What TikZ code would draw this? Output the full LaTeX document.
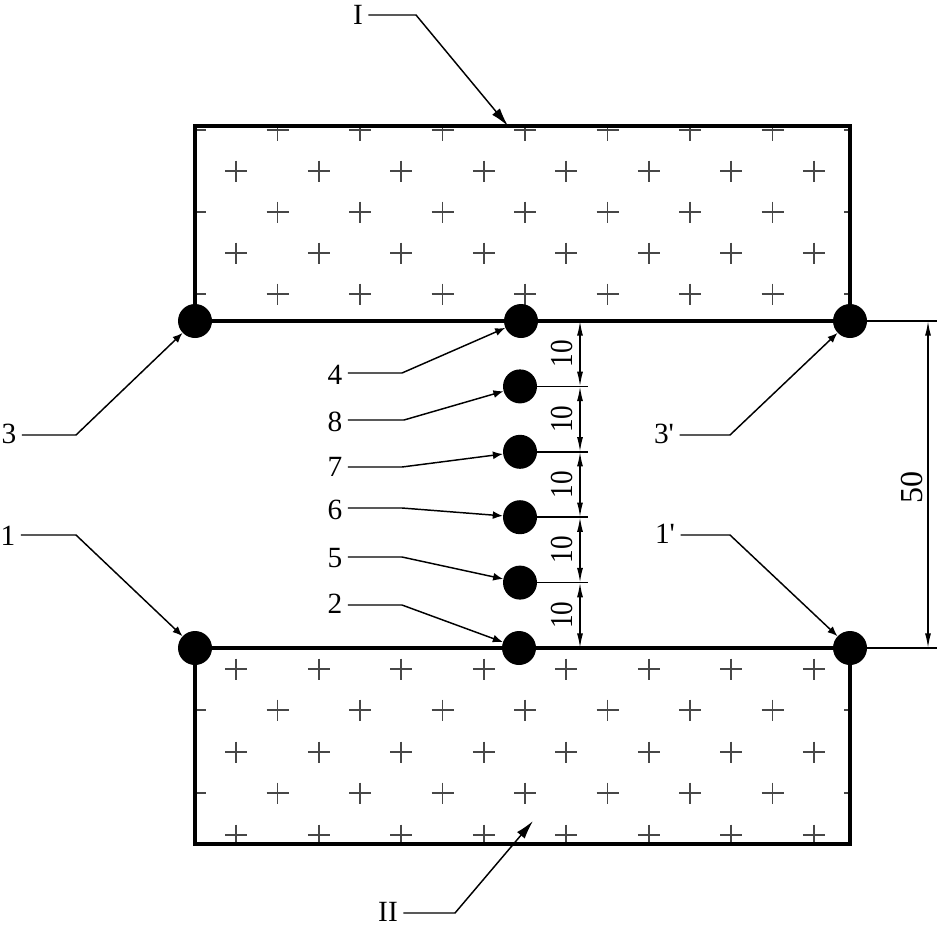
\documentclass[tikz,border=0pt]{standalone}
\usepackage{fontspec}
\usepackage{graphicx}
\setmainfont{Liberation Serif}
\usetikzlibrary{arrows.meta}
\begin{document}
\begin{tikzpicture}[x=0.75pt,y=-0.75pt,
  edge/.style={line width=3pt,line join=miter,line cap=rect},
  lead/.style={line width=1.1pt,-{Latex[length=7.5pt,width=6pt]}},
  biglead/.style={line width=1.1pt,-{Latex[length=14pt,width=7.5pt]}},
  dimline/.style={line width=1.1pt,{Latex[length=11pt,width=4.5pt]}-{Latex[length=11pt,width=4.5pt]}},
  thinline/.style={line width=1.1pt},
  dot/.style={circle,fill=black,inner sep=0pt,minimum size=25.5pt},
  lab/.style={inner sep=4pt,font=\fontsize{22}{26}\selectfont},
  dimlab/.style={inner sep=1pt,rotate=90,font=\fontsize{24}{28}\selectfont},
  cross/.style={line width=1.3pt,draw=black!72},
]
\useasboundingbox (0,0) rectangle (937,931);

% ---- hatching (crosses) ----
\begin{scope}
  \clip (195,126) rectangle (850,321);
  \foreach \y in {130,212,294}
    \foreach \x in {195,277.5,...,856}
      \draw[cross] ({\x-11},\y) -- ({\x+11},\y) (\x,{\y-10.5}) -- (\x,{\y+10.5});
  \foreach \y in {171,253}
    \foreach \x in {236.25,318.75,...,815}
      \draw[cross] ({\x-11},\y) -- ({\x+11},\y) (\x,{\y-10.5}) -- (\x,{\y+10.5});
\end{scope}
\begin{scope}
  \clip (195,648) rectangle (850,844);
  \foreach \y in {669,752,835}
    \foreach \x in {236.25,318.75,...,815}
      \draw[cross] ({\x-11},\y) -- ({\x+11},\y) (\x,{\y-10.5}) -- (\x,{\y+10.5});
  \foreach \y in {710,793}
    \foreach \x in {195,277.5,...,856}
      \draw[cross] ({\x-11},\y) -- ({\x+11},\y) (\x,{\y-10.5}) -- (\x,{\y+10.5});
\end{scope}

% ---- blocks ----
\draw[edge] (195,126) rectangle (850,321);
\draw[edge] (195,648) rectangle (850,844);

% ---- dimension coordinates ----
\coordinate (m0) at (580,321);
\coordinate (m1) at (580,386.4);
\coordinate (m2) at (580,451.8);
\coordinate (m3) at (580,517.2);
\coordinate (m4) at (580,582.6);
\coordinate (m5) at (580,648);
\coordinate (e1) at (588,386.4);
\coordinate (e2) at (588,451.8);
\coordinate (e3) at (588,517.2);
\coordinate (e4) at (588,582.6);
\coordinate (x0) at (937,321);
\coordinate (x1) at (937,648);
\coordinate (n0) at (928,321);
\coordinate (n1) at (928,648);

% ---- dots ----
\node[dot] (d3) at (195,321) {};
\node[dot] (d4) at (521,321) {};
\node[dot] (d3p) at (850,321) {};
\node[dot] (d8) at (520,386.4) {};
\node[dot] (d7) at (520,451.8) {};
\node[dot] (d6) at (520,517.2) {};
\node[dot] (d5) at (520,582.6) {};
\node[dot] (d2) at (519,648) {};
\node[dot] (d1) at (195,648) {};
\node[dot] (d1p) at (850,648) {};

% ---- ticks and extension lines ----
\draw[thinline] (d8.center) -- (e1);
\draw[thinline] (d7.center) -- (e2);
\draw[thinline] (d6.center) -- (e3);
\draw[thinline] (d5.center) -- (e4);
\draw[thinline] (d3p.center) -- (x0);
\draw[thinline] (d1p.center) -- (x1);

% ---- dimensions ----
\draw[dimline] (m0) -- (m1);
\draw[dimline] (m1) -- (m2);
\draw[dimline] (m2) -- (m3);
\draw[dimline] (m3) -- (m4);
\draw[dimline] (m4) -- (m5);
\node[dimlab] (t1) at (562,353.7) {\scalebox{0.85}[1]{10}};
\node[dimlab] (t2) at (562,419.1) {\scalebox{0.85}[1]{10}};
\node[dimlab] (t3) at (562,484.5) {\scalebox{0.85}[1]{10}};
\node[dimlab] (t4) at (562,549.9) {\scalebox{0.85}[1]{10}};
\node[dimlab] (t5) at (562,615.3) {\scalebox{0.85}[1]{10}};
\draw[dimline] (n0) -- (n1);
\node[dimlab] (t50) at (912,487) {50};

% ---- leader labels ----
\node[lab] (lI) at (358,15) {I};
\node[lab] (l3) at (9,434) {3};
\node[lab] (l1) at (8,536) {1};
\node[lab] (l3p) at (664,434) {3\textquotesingle};
\node[lab] (l1p) at (665,534) {1\textquotesingle};
\node[lab] (l4) at (335,375) {4};
\node[lab] (l8) at (335,422) {8};
\node[lab] (l7) at (335,467) {7};
\node[lab] (l6) at (335,510) {6};
\node[lab] (l5) at (335,558) {5};
\node[lab] (l2) at (335,604) {2};
\node[lab] (lII) at (388,912) {II};

\coordinate (kI) at (416,15);
\coordinate (tI) at (508,126);
\coordinate (k3) at (76,435);
\coordinate (k1) at (76,535);
\coordinate (k3p) at (730,435);
\coordinate (k1p) at (730,535);
\coordinate (k4) at (402,373);
\coordinate (k8) at (404,420);
\coordinate (k7) at (402,467);
\coordinate (k6) at (402,508);
\coordinate (k5) at (402,557);
\coordinate (k2) at (402,605);
\coordinate (kII) at (455,913);
\coordinate (tII) at (533,821);

% ---- leaders ----
\draw[biglead] (lI.east |- kI) -- (kI) -- (tI);
\draw[lead] (l3.east |- k3) -- (k3) -- (d3);
\draw[lead] (l1.east |- k1) -- (k1) -- (d1);
\draw[lead] (l3p.east |- k3p) -- (k3p) -- (d3p);
\draw[lead] (l1p.east |- k1p) -- (k1p) -- (d1p);
\draw[lead] (l4.east |- k4) -- (k4) -- (d4);
\draw[lead] (l8.east |- k8) -- (k8) -- (d8);
\draw[lead] (l7.east |- k7) -- (k7) -- (d7);
\draw[lead] (l6.east |- k6) -- (k6) -- (d6);
\draw[lead] (l5.east |- k5) -- (k5) -- (d5);
\draw[lead] (l2.east |- k2) -- (k2) -- (d2);
\draw[biglead] (lII.east |- kII) -- (kII) -- (tII);
\end{tikzpicture}
\end{document}
